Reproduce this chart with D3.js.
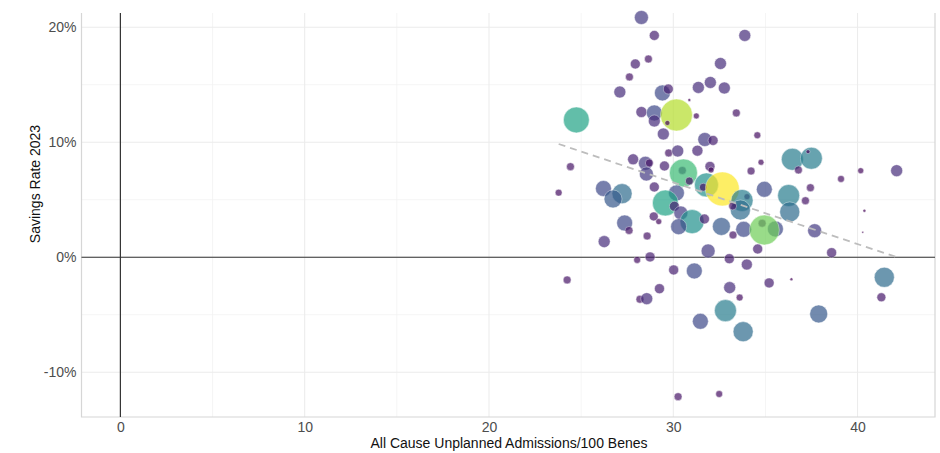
<!DOCTYPE html>
<html><head><meta charset="utf-8">
<script src="https://cdn.jsdelivr.net/npm/d3@7"></script>
<style>
body{margin:0;background:#fff}
svg{display:block}
text{font-family:"Liberation Sans",Arial,Helvetica,sans-serif}
</style>
</head><body>
<svg id="chart" width="940" height="453"></svg>
<script>
// All Cause Unplanned Admissions / 100 Benes
const admissions = [30.49,34.00,34.82,35.54,
 28.27,28.97,27.94,28.65,27.62,27.10,29.41,29.73,28.27,28.97,28.97,30.17,30.87,31.25,29.68,29.46,
 24.74,31.36,32.01,32.56,32.77,33.42,33.88,31.71,32.16,34.56,29.75,30.24,31.31,27.82,28.49,28.70,
 28.54,29.52,30.55,30.87,31.99,32.05,31.80,31.63,32.66,28.97,26.21,27.22,26.73,30.17,29.57,30.06,
 30.41,31.02,30.29,31.69,32.61,33.24,28.94,29.21,27.36,27.60,28.58,26.25,28.04,28.74,30.02,31.14,
 31.89,33.04,24.42,23.78,24.24,29.25,28.19,28.56,32.83,31.47,33.79,30.26,32.49,33.99,33.06,33.60,
 35.20,36.41,37.89,41.45,41.29,34.76,34.22,36.46,37.49,37.31,36.79,37.44,37.17,39.10,40.17,42.12,
 40.37,40.28,34.94,36.26,36.32,37.67,38.59,33.73,33.64,33.22,33.82,34.94,34.58];
// Savings Rate 2023 (percent)
const savingsRate = [7.55,5.27,2.96,2.46,
 20.85,19.29,16.81,17.24,15.68,14.37,14.29,14.63,12.63,12.55,11.85,12.37,13.68,12.29,11.68,10.72,
 11.94,14.77,15.20,16.85,14.72,12.55,19.29,10.24,10.16,10.61,9.07,9.24,9.27,8.52,8.17,8.20,
 7.24,7.94,7.33,6.63,7.90,7.59,6.29,6.09,5.94,6.11,5.98,5.53,5.07,5.59,4.72,4.43,
 3.85,3.10,2.66,3.33,2.68,1.94,3.55,3.10,2.98,2.33,1.85,1.36,-0.23,0.03,-1.10,-1.19,
 0.55,-0.12,7.88,5.62,-1.97,-2.73,-3.65,-3.60,-4.64,-5.57,-6.47,-12.12,-11.89,-0.63,-2.64,-3.50,
 -2.23,-1.91,-4.93,-1.74,-3.48,8.26,7.50,8.52,8.61,9.18,7.59,6.05,4.92,6.81,7.53,7.53,
 4.05,2.17,5.91,5.37,3.94,2.31,0.40,4.94,4.11,4.46,2.43,2.37,0.72];
// Bubble size / colour variable
const benes = [5.5,3.1,5.5,22,
 17,8.7,8.7,5.5,5.5,12.5,22,8.7,10.5,22,12.5,89,0.8,3.1,2.2,12.5,
 58,12.5,12.5,12.5,12.5,5.5,12.5,17,8.7,4.2,5.5,12.5,10.5,10.5,17,5.5,
 17,8.7,68,5.5,8.7,3.1,50,5.5,100,8.7,22,35,28,22,58,8.7,
 17,50,22,8.7,28,5.5,7,3.1,22,5.5,5.5,12.5,4.2,8.7,8.7,22,
 17,8.7,5.5,4.2,5.5,8.7,5.5,12.5,42,22,35,5.5,4.2,10.5,12.5,4.2,
 8.7,0.8,28,35,7,3.1,5.5,42,42,1.4,5.5,5.5,5.5,4.2,3.1,12.5,
 0.8,0.35,22,42,35,17,8.7,42,35,5.5,22,78,8.7];

const trendX = [23.78, 42.12];
const trendY = [9.85, 0.01];

const xTicks = [0, 10, 20, 30, 40];
const xMinor = [5, 15, 25, 35];
const yTicks = [-10, 0, 10, 20];
const yMinor = [-5, 5, 15];

const svg = d3.select("#chart");
const L = 81.5, R = 935, T = 13, B = 417;

const x = d3.scaleLinear().domain([-2.11, 44.2]).range([L, R]);
const y = d3.scaleLinear().domain([-13.89, 21.24]).range([B, T]);
const rScale = d3.scaleSqrt().domain([0, 100]).range([0, 17]);
const color = d3.scaleSequential(d3.interpolateViridis).domain([0, 100]);

// grid
const g = svg.append("g");
g.selectAll(".xmin").data(xMinor).join("line")
  .attr("x1", d => x(d)).attr("x2", d => x(d)).attr("y1", T).attr("y2", B)
  .attr("stroke", "#f3f3f3").attr("stroke-width", 0.8);
g.selectAll(".ymin").data(yMinor).join("line")
  .attr("y1", d => y(d)).attr("y2", d => y(d)).attr("x1", L).attr("x2", R)
  .attr("stroke", "#f3f3f3").attr("stroke-width", 0.8);
g.selectAll(".xmaj").data(xTicks).join("line")
  .attr("x1", d => x(d)).attr("x2", d => x(d)).attr("y1", T).attr("y2", B)
  .attr("stroke", "#ebebeb").attr("stroke-width", 1);
g.selectAll(".ymaj").data(yTicks).join("line")
  .attr("y1", d => y(d)).attr("y2", d => y(d)).attr("x1", L).attr("x2", R)
  .attr("stroke", "#ebebeb").attr("stroke-width", 1);

// panel border (left, bottom, right)
svg.append("path")
  .attr("d", `M${L},${T}V${B}H${R}V${T}`)
  .attr("fill", "none").attr("stroke", "#d6d6d6").attr("stroke-width", 1.2);

// zero lines
svg.append("line").attr("x1", L).attr("x2", R).attr("y1", y(0)).attr("y2", y(0))
  .attr("stroke", "#333").attr("stroke-width", 1.2);
svg.append("line").attr("x1", x(0)).attr("x2", x(0)).attr("y1", T).attr("y2", B)
  .attr("stroke", "#333").attr("stroke-width", 1.2);

// points
const pts = admissions.map((a, i) => ({x: a, y: savingsRate[i], s: benes[i]}));
svg.append("g").selectAll("circle").data(pts).join("circle")
  .attr("cx", d => x(d.x)).attr("cy", d => y(d.y)).attr("r", d => rScale(d.s))
  .attr("fill", d => color(d.s)).attr("stroke", "#fff").attr("stroke-width", 0.5)
  .attr("opacity", 0.7);

// trend line
svg.append("line")
  .attr("x1", x(trendX[0])).attr("y1", y(trendY[0]))
  .attr("x2", x(trendX[1])).attr("y2", y(trendY[1]))
  .attr("stroke", "#bdbdbd").attr("stroke-width", 1.8).attr("stroke-dasharray", "7,5");

// axes
const ax = svg.append("g").attr("transform", `translate(0,${B})`)
  .call(d3.axisBottom(x).tickValues(xTicks).tickSize(0).tickPadding(5).tickFormat(d => d));
ax.select(".domain").remove();
ax.selectAll("text").attr("font-size", 14).attr("fill", "#4d4d4d")
  .style("font-family", '"Liberation Sans",Arial,sans-serif');

const ay = svg.append("g").attr("transform", `translate(${L},0)`)
  .call(d3.axisLeft(y).tickValues(yTicks).tickSize(0).tickPadding(5).tickFormat(d => d + "%"));
ay.select(".domain").remove();
ay.selectAll("text").attr("font-size", 14).attr("fill", "#4d4d4d")
  .style("font-family", '"Liberation Sans",Arial,sans-serif');

// titles
svg.append("text").attr("x", 509).attr("y", 447.5).attr("text-anchor", "middle")
  .attr("font-size", 14).attr("fill", "#111").text("All Cause Unplanned Admissions/100 Benes");
svg.append("text").attr("transform", "translate(40,184) rotate(-90)").attr("text-anchor", "middle")
  .attr("font-size", 14).attr("fill", "#111").text("Savings Rate 2023");
</script>
</body></html>
